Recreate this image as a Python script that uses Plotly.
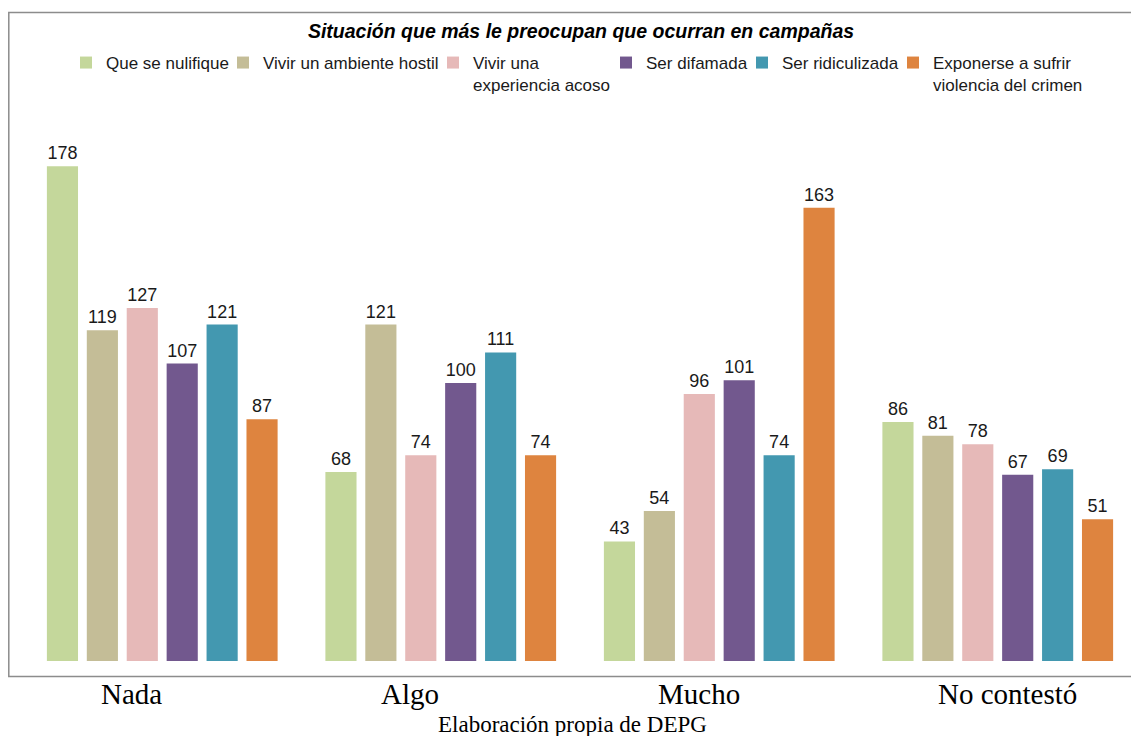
import plotly.graph_objects as go

categorias = ["Nada", "Algo", "Mucho", "No contestó"]

que_se_nulifique = [178, 68, 43, 86]
ambiente_hostil = [119, 121, 54, 81]
experiencia_acoso = [127, 74, 96, 78]
ser_difamada = [107, 100, 101, 67]
ser_ridiculizada = [121, 111, 74, 69]
violencia_crimen = [87, 74, 163, 51]

series = [
    ("Que se nulifique", que_se_nulifique, "#C4D79B"),
    ("Vivir un ambiente hostil", ambiente_hostil, "#C4BD97"),
    ("Vivir una<br>experiencia acoso", experiencia_acoso, "#E6B9B8"),
    ("Ser difamada", ser_difamada, "#72588E"),
    ("Ser ridiculizada", ser_ridiculizada, "#4398B0"),
    ("Exponerse a sufrir<br>violencia del crimen", violencia_crimen, "#DE843F"),
]

# page is drawn 8px in from the top-left corner (body margin)
OFF = 8
W, H = 1139 - OFF, 736 - OFF
L, R, T, B = 15, 2, 102, 75
PW, PH = W - L - R, H - T - B

# where each legend text starts on the page
legend_text_x = [102, 259, 469, 642, 778, 929]
# category labels sit a little off the bar groups in the original
label_shift = [-31, -31, -20, 10]

px_to_x = lambda p: (p - OFF - L) / PW
px_to_y = lambda p: (H - B - (p - OFF)) / PH

fig = go.Figure()
legend_layout = {}
for i, (name, vals, color) in enumerate(series):
    key = "legend" if i == 0 else "legend%d" % (i + 1)
    fig.add_trace(go.Bar(
        x=categorias, y=vals, name=name,
        marker_color=color, marker_line_width=0,
        text=vals, textposition="outside",
        textfont=dict(family="Liberation Sans, Arial", size=18, color="#1a1a1a"),
        cliponaxis=False,
        legend=key,
    ))
    legend_layout[key] = dict(
        xref="container", yref="container",
        x=(legend_text_x[i] + 4 - OFF - 40) / W, y=1 - 37 / H,
        xanchor="left", yanchor="top", valign="top",
        bgcolor="rgba(0,0,0,0)",
        font=dict(family="Liberation Sans, Arial", size=17, color="#1a1a1a"),
        itemwidth=30,
    )

# outer frame: left, top and bottom edges (open on the right)
frame = "M %f,%f L %f,%f L %f,%f L %f,%f" % (
    px_to_x(1150), px_to_y(12.5),
    px_to_x(8.8), px_to_y(12.5),
    px_to_x(8.8), px_to_y(676.5),
    px_to_x(1150), px_to_y(676.5),
)

anots = [dict(
    text=cat, x=cat, xref="x", yref="paper", y=px_to_y(694),
    xshift=s, xanchor="center", yanchor="middle", showarrow=False,
    font=dict(family="Liberation Serif, Cambria, serif", size=29, color="black"),
) for cat, s in zip(categorias, label_shift)]
anots.append(dict(
    text="Elaboración propia de DEPG",
    xref="paper", yref="paper",
    x=px_to_x(572), y=px_to_y(724),
    xanchor="center", yanchor="middle", showarrow=False,
    font=dict(family="Liberation Serif, Cambria, serif", size=23, color="black"),
))

fig.update_layout(
    width=W, height=H,
    margin=dict(l=L, r=R, t=T, b=B, autoexpand=False),
    paper_bgcolor="white", plot_bgcolor="white",
    barmode="group", bargap=0.14, bargroupgap=0.22,
    showlegend=True,
    title=dict(
        text="<b><i>Situación que más le preocupan que ocurran en campañas</i></b>",
        xref="container", yref="container",
        x=(581 - OFF) / W, xanchor="center", y=1 - (31 - OFF) / H, yanchor="middle",
        font=dict(family="Liberation Sans, Arial", size=19.5, color="black"),
    ),
    xaxis=dict(showline=False, ticks="", showgrid=False, showticklabels=False),
    yaxis=dict(visible=False, range=[0, PH / 2.78]),
    shapes=[dict(type="path", xref="paper", yref="paper", path=frame,
                 line=dict(color="#8c8c8c", width=1.5))],
    annotations=anots,
    **legend_layout,
)

fig.write_html("out.html")
